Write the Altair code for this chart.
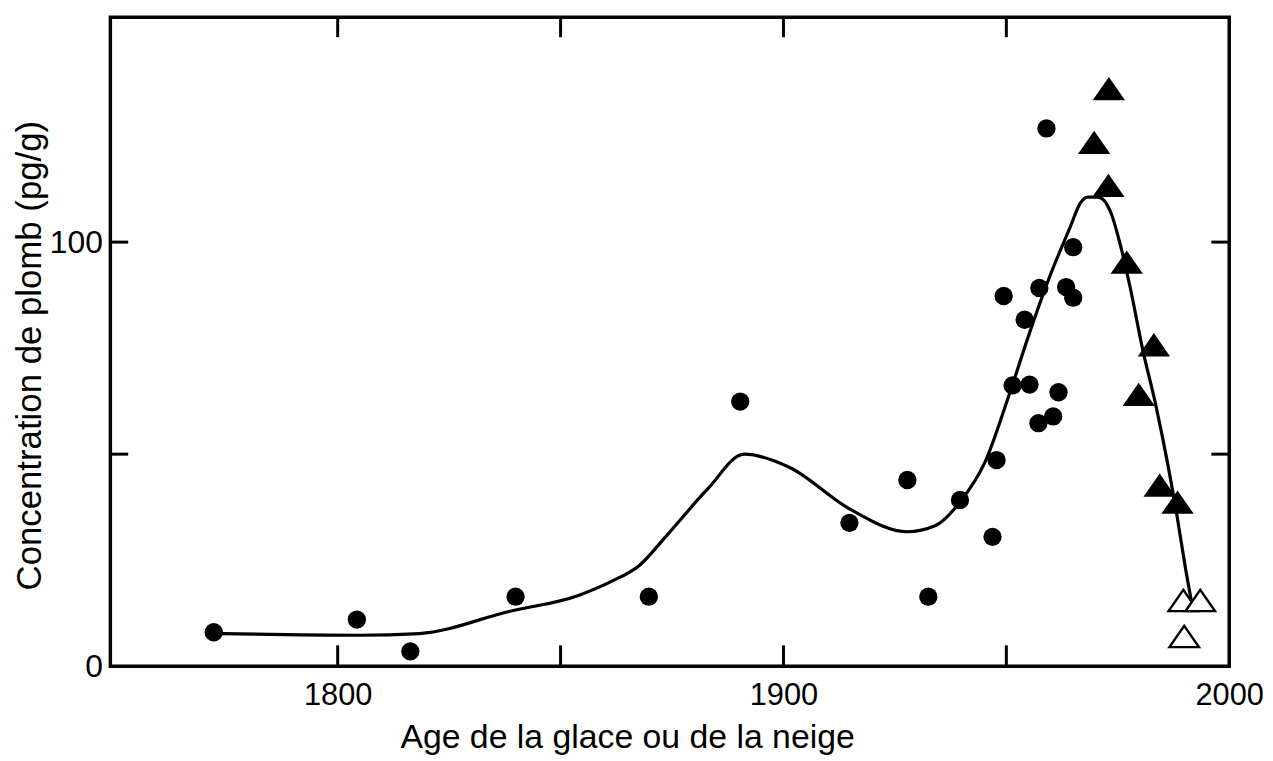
import altair as alt
import pandas as pd

# ---- data ----
circle_year = [1772.2, 1804.3, 1816.3, 1839.9, 1869.8, 1890.3, 1914.8, 1927.8, 1932.5,
               1939.6, 1946.9, 1947.8, 1949.4, 1951.4, 1954.1, 1955.2, 1957.2, 1957.4,
               1959.0, 1960.5, 1961.7, 1963.4, 1965.0, 1965.0]
circle_val = [8.0, 11.0, 3.5, 16.4, 16.4, 62.4, 33.8, 43.9, 16.4,
              39.2, 30.5, 48.6, 87.3, 66.2, 81.7, 66.4, 57.3, 89.2,
              126.8, 58.9, 64.6, 89.4, 98.8, 86.9]

tri_year = [1973.0, 1969.7, 1972.9, 1977.0, 1983.1, 1979.7, 1984.4, 1988.4]
tri_val = [136.2, 123.5, 113.4, 95.3, 75.8, 64.1, 42.7, 38.7]

open_year = [1989.7, 1993.5, 1989.9]
open_val = [15.5, 15.5, 7.0]

curve_year = [1774.0, 1804.7, 1818.3, 1838.4, 1854.0, 1861.4, 1867.6, 1873.8, 1883.0,
              1891.2, 1901.3, 1914.8, 1927.8, 1934.0, 1939.6, 1945.2, 1950.5, 1955.2,
              1959.7, 1964.3, 1966.6, 1968.3, 1970.6, 1973.5, 1975.7, 1977.9, 1980.6,
              1983.5, 1986.2, 1988.4, 1990.2, 1991.8]
curve_val = [7.7, 7.3, 7.7, 12.9, 16.7, 20.0, 23.7, 30.8, 41.8,
             50.0, 46.9, 37.1, 31.7, 33.1, 38.7, 48.1, 63.6, 78.6,
             91.8, 103.5, 109.2, 110.6, 110.6, 106.8, 98.8, 88.7, 74.6,
             61.7, 47.7, 34.7, 23.0, 13.6]

xtick_years = [1800, 1850, 1900, 1950]
ytick_vals = [50, 100]
xlabel_vals = [1800, 1900, 2000]
ylabel_vals = [0, 100]

x_title = "Age de la glace ou de la neige"
y_title = "Concentration de plomb (pg/g)"

W, H = 1126, 653
FONT = "Liberation Sans"

xscale = alt.Scale(domain=[1749, 2000], nice=False, zero=False)
yscale = alt.Scale(domain=[0, 153], nice=False, zero=True)

xaxis = alt.Axis(values=xlabel_vals, format="d", title=x_title, labelFlush=False,
                 labelPadding=15, titleX=520, titleY=82, titleAlign="center",
                 titleBaseline="alphabetic", titleFontSize=34, labelFontSize=31)
yaxis = alt.Axis(values=ylabel_vals, format="d", title=y_title, labelPadding=8,
                 titleX=-70, titleY=340, titleAlign="center", titleAngle=270,
                 titleBaseline="alphabetic", titleFontSize=35, labelFontSize=32)

X = lambda: alt.X("year:Q", scale=xscale, axis=xaxis)
Y = lambda: alt.Y("val:Q", scale=yscale, axis=yaxis)

curve_df = pd.DataFrame({"year": curve_year, "val": curve_val})
circ_df = pd.DataFrame({"year": circle_year, "val": circle_val})
tri_df = pd.DataFrame({"year": tri_year, "val": tri_val})
open_df = pd.DataFrame({"year": open_year, "val": open_val})
xt_df = pd.DataFrame({"year": xtick_years})
yt_df = pd.DataFrame({"val": ytick_vals})

tri_shape = "M-1,0.72L1,0.72L0,-0.72Z"

line = alt.Chart(curve_df).mark_line(color="black", strokeWidth=3.2, interpolate="monotone").encode(x=X(), y=Y())
circles = alt.Chart(circ_df).mark_point(shape="circle", filled=True, size=340, color="black", opacity=1).encode(x=X(), y=Y())
tris = alt.Chart(tri_df).mark_point(shape=tri_shape, filled=True, size=1060, color="black", opacity=1).encode(x=X(), y=Y())
opens = alt.Chart(open_df).mark_point(shape=tri_shape, filled=True, fill="white", stroke="black",
                                      strokeWidth=2.4, size=880, opacity=1).encode(x=X(), y=Y())

tick_style = dict(color="black", strokeWidth=3)
bottom_ticks = alt.Chart(xt_df).mark_rule(**tick_style).encode(x=X(), y=alt.value(H), y2=alt.value(H - 21))
top_ticks = alt.Chart(xt_df).mark_rule(**tick_style).encode(x=X(), y=alt.value(0), y2=alt.value(20))
left_ticks = alt.Chart(yt_df).mark_rule(**tick_style).encode(y=Y(), x=alt.value(0), x2=alt.value(18))
right_ticks = alt.Chart(yt_df).mark_rule(**tick_style).encode(y=Y(), x=alt.value(W), x2=alt.value(W - 18))

chart = alt.layer(line, circles, tris, opens, bottom_ticks, top_ticks, left_ticks, right_ticks).properties(
    width=W, height=H,
    autosize=alt.AutoSizeParams(type="none"),
    padding={"left": 103, "top": 7, "right": 36, "bottom": 93},
    background="white",
).configure_view(
    stroke="black", strokeWidth=3.5
).configure_axis(
    domain=False, grid=False, ticks=False, tickSize=0,
    labelFont=FONT, titleFont=FONT, labelColor="black", titleColor="black",
    titleFontWeight="normal",
)

chart.save("out.html", embed_options={"renderer": "svg", "actions": False})
